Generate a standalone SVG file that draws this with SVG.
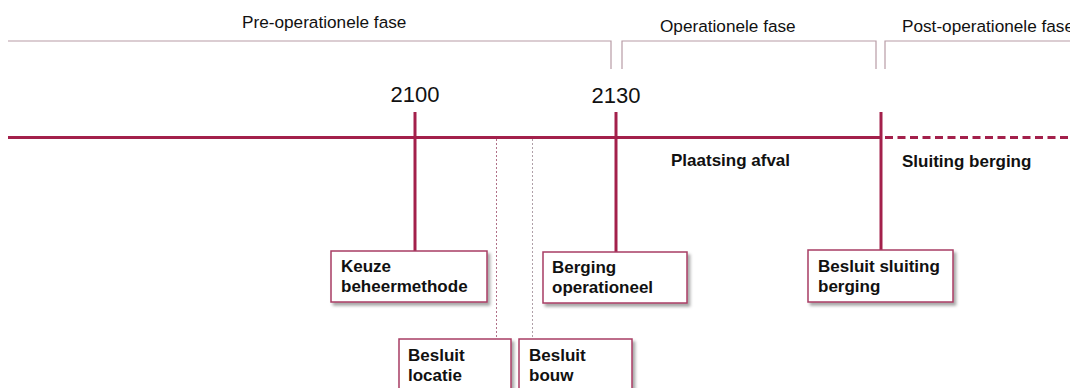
<svg xmlns="http://www.w3.org/2000/svg" width="1070" height="388" viewBox="0 0 1070 388">
<defs>
<filter id="sh" x="-10%" y="-10%" width="130%" height="140%">
<feDropShadow dx="2.5" dy="3" stdDeviation="1.5" flood-color="#000" flood-opacity="0.35"/>
</filter>
<style>
.phase{font-family:"Liberation Sans",Arial,sans-serif;font-size:17.2px;fill:#111}
.year{font-family:"Liberation Sans",Arial,sans-serif;font-size:22px;fill:#111}
.lbl{font-family:"Liberation Sans",Arial,sans-serif;font-size:17px;font-weight:bold;fill:#111}
.bracket{fill:none;stroke:#B89CA6;stroke-width:1.2}
.main{stroke:#A3204B;stroke-width:3;fill:none}
.tick{stroke:#A3204B;stroke-width:3;fill:none}
.dot{stroke-width:1;stroke-dasharray:2 2;fill:none}
.box{fill:#fff;stroke:#A83C64;stroke-width:1.5;filter:url(#sh)}
</style>
</defs>
<rect width="1070" height="388" fill="#fff"/>
<g id="phases">
<path class="bracket" d="M8 41 H611 V69"/>
<path class="bracket" d="M622 69 V41 H876 V69"/>
<path class="bracket" d="M885 69 V41 H1070"/>
<text class="phase" x="242" y="28">Pre-operationele fase</text>
<text class="phase" x="660" y="32">Operationele fase</text>
<text class="phase" x="902" y="32">Post-operationele fase</text>
</g>
<g id="connectors">
<path class="main" d="M8 137.5 H881"/>
<path class="main" d="M885 137.5 H1070" stroke-dasharray="8 4.5" stroke-width="3.5"/>
<path class="tick" d="M415 112 V251"/>
<path class="tick" d="M616 112 V252"/>
<path class="tick" d="M881 112 V250"/>
<path class="dot" stroke="#B07088" d="M496.5 139 V339"/>
<path class="dot" stroke="#B0A0A8" d="M532.5 139 V339"/>
</g>
<g id="years">
<text class="year" x="415" y="102" text-anchor="middle">2100</text>
<text class="year" x="616" y="103" text-anchor="middle">2130</text>
</g>
<g id="periods">
<text class="lbl" x="671" y="166">Plaatsing afval</text>
<text class="lbl" x="902" y="167">Sluiting berging</text>
</g>
<g id="keuze">
<rect class="box" x="331" y="251" width="156" height="51"/>
<text class="lbl" x="341" y="272">Keuze</text>
<text class="lbl" x="341" y="292">beheermethode</text>
</g>
<g id="berging-operationeel">
<rect class="box" x="543" y="252" width="144" height="51"/>
<text class="lbl" x="552" y="273">Berging</text>
<text class="lbl" x="552" y="293">operationeel</text>
</g>
<g id="besluit-sluiting">
<rect class="box" x="808" y="250" width="145" height="52"/>
<text class="lbl" x="818" y="272">Besluit sluiting</text>
<text class="lbl" x="818" y="292">berging</text>
</g>
<g id="besluit-locatie">
<rect class="box" x="399" y="339" width="112" height="60"/>
<text class="lbl" x="408" y="361">Besluit</text>
<text class="lbl" x="408" y="381">locatie</text>
</g>
<g id="besluit-bouw">
<rect class="box" x="519" y="339" width="113" height="60"/>
<text class="lbl" x="529" y="361">Besluit</text>
<text class="lbl" x="529" y="381">bouw</text>
</g>
</svg>
